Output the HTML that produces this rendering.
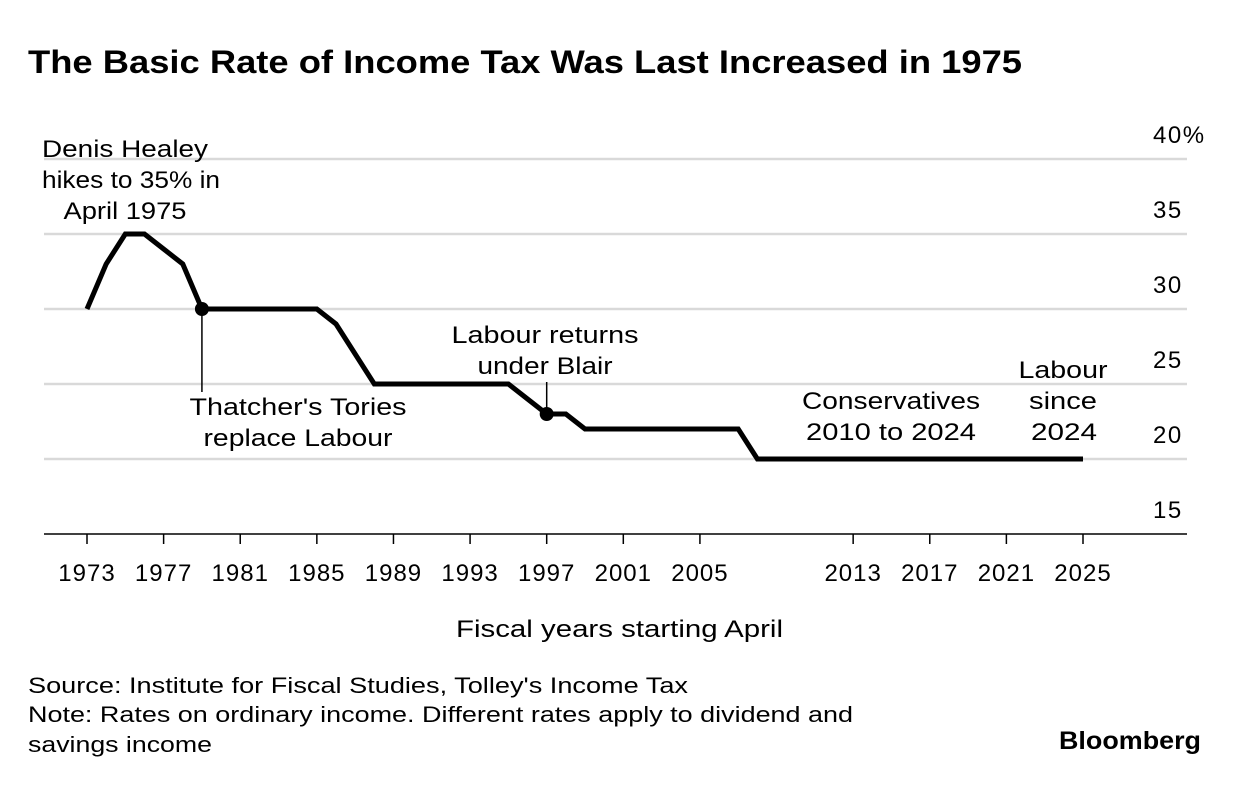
<!DOCTYPE html>
<html><head><meta charset="utf-8"><style>
body{margin:0;background:#fff;width:1240px;height:784px;overflow:hidden;font-family:"Liberation Sans",sans-serif;}
text{font-family:"Liberation Sans",sans-serif;fill:#000}
</style></head><body>
<svg id="c" width="1240" height="784">
<text x="28" y="73" font-size="32" font-weight="bold" textLength="994" lengthAdjust="spacingAndGlyphs">The Basic Rate of Income Tax Was Last Increased in 1975</text>
<g id="grid"></g><g id="xt"></g><g id="yt"></g><g id="ln"></g>
<g font-size="24" text-anchor="middle">
<text x="125" y="157" textLength="166" lengthAdjust="spacingAndGlyphs">Denis Healey</text><text x="131" y="188" textLength="178" lengthAdjust="spacingAndGlyphs">hikes to 35% in</text><text x="125" y="219" textLength="123" lengthAdjust="spacingAndGlyphs">April 1975</text>
<text x="298" y="415" textLength="217" lengthAdjust="spacingAndGlyphs">Thatcher's Tories</text><text x="298" y="446" textLength="189" lengthAdjust="spacingAndGlyphs">replace Labour</text>
<text x="545" y="343" textLength="187" lengthAdjust="spacingAndGlyphs">Labour returns</text><text x="545" y="374" textLength="135" lengthAdjust="spacingAndGlyphs">under Blair</text>
<text x="891" y="409" textLength="178" lengthAdjust="spacingAndGlyphs">Conservatives</text><text x="891" y="440" textLength="170" lengthAdjust="spacingAndGlyphs">2010 to 2024</text>
<text x="1063" y="378" textLength="89" lengthAdjust="spacingAndGlyphs">Labour</text><text x="1063" y="409" textLength="68" lengthAdjust="spacingAndGlyphs">since</text><text x="1064" y="440" textLength="66" lengthAdjust="spacingAndGlyphs">2024</text>
</g>
<text x="456" y="637" font-size="24" textLength="327" lengthAdjust="spacingAndGlyphs">Fiscal years starting April</text>
<text x="28" y="693" font-size="22" textLength="660" lengthAdjust="spacingAndGlyphs">Source: Institute for Fiscal Studies, Tolley's Income Tax</text>
<text x="28" y="722" font-size="22" textLength="825" lengthAdjust="spacingAndGlyphs">Note: Rates on ordinary income. Different rates apply to dividend and</text>
<text x="28" y="752" font-size="22" textLength="184" lengthAdjust="spacingAndGlyphs">savings income</text>
<text x="1059" y="749" font-size="25" font-weight="bold" textLength="142" lengthAdjust="spacingAndGlyphs">Bloomberg</text>
</svg>
<script>
const years=[1973,1974,1975,1976,1977,1978,1979,1980,1981,1982,1983,1984,1985,1986,1987,1988,1989,1990,1991,1992,1993,1994,1995,1996,1997,1998,1999,2000,2001,2002,2003,2004,2005,2006,2007,2008,2009,2010,2011,2012,2013,2014,2015,2016,2017,2018,2019,2020,2021,2022,2023,2024,2025];
const rates=[30,33,35,35,34,33,30,30,30,30,30,30,30,29,27,25,25,25,25,25,25,25,25,24,23,23,22,22,22,22,22,22,22,22,22,20,20,20,20,20,20,20,20,20,20,20,20,20,20,20,20,20,20];
const xTicks=[1973,1977,1981,1985,1989,1993,1997,2001,2005,2013,2017,2021,2025];
const yTicks=[15,20,25,30,35,40];
const markers=[1979,1997];
const NS="http://www.w3.org/2000/svg";
const X=y=>87+(y-1973)*(996/52), Y=v=>534-(v-15)*15;
function mk(t,a,p){const e=document.createElementNS(NS,t);for(const k in a)e.setAttribute(k,a[k]);document.getElementById(p).appendChild(e);return e;}
yTicks.forEach(v=>{
 const l=mk('line',{x1:44,x2:1187,y1:Y(v),y2:Y(v),stroke:v==15?'#000':'#d9d9d9','stroke-width':v==15?1.5:2.5},'grid');
 
 
 const t=mk('text',{x:1153,y:Y(v)-16,'font-size':24,'letter-spacing':1.5},'yt');t.textContent=v==40?'40%':v;
 
 
});
xTicks.forEach(y=>{
 const l=mk('line',{x1:X(y),x2:X(y),y1:534,y2:544,stroke:'#000','stroke-width':1.5},'xt');
 
 
 const t=mk('text',{x:X(y),y:581,'font-size':24,'letter-spacing':1,'text-anchor':'middle'},'xt');t.textContent=y;
 
 
});
const p=mk('polyline',{points:years.map((y,i)=>X(y)+','+Y(rates[i])).join(' '),fill:'none',stroke:'#000','stroke-width':5,'stroke-linejoin':'miter'},'ln');


markers.forEach(m=>{const v=rates[years.indexOf(m)];
 const l=mk('line',{x1:X(m),x2:X(m),y1:Y(v),y2:m==1979?392:382,stroke:'#000','stroke-width':1.5},'ln');
 
 
 const c=mk('circle',{cx:X(m),cy:Y(v),r:7,fill:'#000'},'ln');
 
 
});
</script>
</body></html>
